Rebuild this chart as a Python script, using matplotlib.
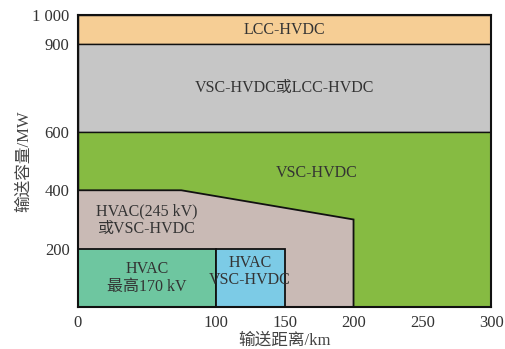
import matplotlib
matplotlib.use("Agg")
import matplotlib.pyplot as plt
from matplotlib.patches import Polygon, Rectangle

plt.rcParams['font.family'] = ['Liberation Serif', 'Noto Sans CJK SC']

x_ticks = [0, 100, 150, 200, 250, 300]
y_ticks = [200, 400, 600, 900, 1000]
y_tick_labels = ['200', '400', '600', '900', '1 000']

# regions: (x0, x1, y0, y1)
lcc_band = (0, 300, 900, 1000)
mixed_band = (0, 300, 600, 900)
vsc_band = (0, 300, 0, 600)
hvac245_x = [0, 0, 75, 200, 200]
hvac245_y = [0, 400, 400, 300, 0]
hvac170 = (0, 100, 0, 200)
hvac_vsc = (100, 150, 0, 200)

labels = [
    ("LCC-HVDC", 150, 950),
    ("VSC-HVDC或LCC-HVDC", 150, 750),
    ("VSC-HVDC", 173, 458),
    ("HVAC(245 kV)\n或VSC-HVDC", 50, 297),
    ("HVAC\n最高170 kV", 50, 100),
    ("HVAC\nVSC-HVDC", 125, 122),
]

fig = plt.figure(figsize=(5.06, 3.49), dpi=100)
ax = fig.add_axes([0.154, 0.120, 0.817, 0.837])

def rect(b, color, lw=1.0):
    ax.add_patch(Rectangle((b[0], b[2]), b[1]-b[0], b[3]-b[2], facecolor=color,
                           edgecolor='#111111', linewidth=lw))

rect(lcc_band, '#f6ce95')
rect(mixed_band, '#c6c6c6')
rect(vsc_band, '#86bb42')
ax.add_patch(Polygon(list(zip(hvac245_x, hvac245_y)), closed=True,
                     facecolor='#c9bab5', edgecolor='#111111', linewidth=1.3))
rect(hvac170, '#6ec6a0', 1.3)
rect(hvac_vsc, '#7ccbe6', 1.3)

for t, x, y in labels:
    ax.text(x, y, t, ha='center', va='center', fontsize=11.5, color='#333333',
            linespacing=1.15)

ax.set_xlim(0, 300)
ax.set_ylim(0, 1000)
ax.set_xticks(x_ticks)
ax.set_yticks(y_ticks)
ax.set_yticklabels(y_tick_labels)
ax.tick_params(length=0, labelsize=12, colors='#333333', pad=6)
for s in ax.spines.values():
    s.set_linewidth(1.5)
    s.set_color('#111111')
ax.set_xlabel('输送距离/km', fontsize=12, color='#444444', labelpad=1)
ax.set_ylabel('输送容量/MW', fontsize=12, color='#444444', labelpad=0)

fig.savefig('out.png', dpi=100)
